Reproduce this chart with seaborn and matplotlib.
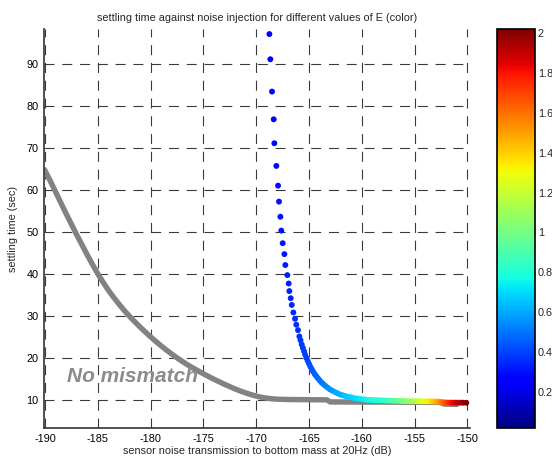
import numpy as np
import pandas as pd
import matplotlib
matplotlib.use("Agg")
import matplotlib.pyplot as plt
from matplotlib.colors import Normalize
from matplotlib.cm import ScalarMappable
import seaborn as sns

# ---- data -------------------------------------------------------------
# reference curve: no mismatch (grey)
ref_x = [-190.05, -189.5, -189.0, -188.5, -188.0, -187.5, -187.0, -186.5,
         -186.0, -185.5, -185.0, -184.5, -184.0, -183.5, -183.0, -182.5,
         -182.0, -181.5, -181.0, -180.5, -180.0, -179.5, -179.0, -178.5,
         -178.0, -177.5, -177.0, -176.5, -176.0, -175.5, -175.0, -174.5,
         -174.0, -173.5, -173.0, -172.5, -172.0, -171.5, -171.0, -170.5,
         -170.0, -169.5, -169.0, -168.5, -168.0, -167.0, -165.0, -163.3,
         -163.0, -157.0, -152.6, -152.2, -151.0]
ref_y = [64.8, 62.1, 59.5, 56.9, 54.3, 51.8, 49.3, 46.9,
         44.5, 42.2, 40.0, 38.0, 36.1, 34.4, 32.8, 31.3,
         29.9, 28.6, 27.35, 26.15, 25.0, 23.9, 22.85, 21.85,
         20.9, 20.0, 19.15, 18.35, 17.6, 16.9, 16.2, 15.55,
         14.9, 14.3, 13.7, 13.15, 12.6, 12.1, 11.65, 11.25,
         10.9, 10.6, 10.4, 10.25, 10.15, 10.08, 10.03, 10.0,
         9.5, 9.45, 9.4, 9.0, 8.9]

# settling time for each value of E
noise_db = [
    # sparse part (large settling times)
    -168.75, -168.66, -168.50, -168.34, -168.28, -168.09, -167.93, -167.84,
    -167.71, -167.62, -167.49, -167.33, -167.24, -167.05, -166.92, -166.86,
    -166.73, -166.63, -166.48, -166.32, -166.20, -166.04, -165.91,
    # knee
    -165.80, -165.69, -165.58, -165.47, -165.37, -165.25, -165.12, -165.00,
    -164.87, -164.74, -164.60, -164.45, -164.30, -164.14, -163.98, -163.80,
    -163.62, -163.43, -163.23, -163.02, -162.80, -162.57, -162.33, -162.08,
    -161.82, -161.55, -161.27, -160.98, -160.68, -160.38, -160.07, -159.75,
    -159.43,
    # plateau
    -159.15, -158.90, -158.65, -158.40, -158.15, -157.90, -157.65, -157.40,
    -157.15, -156.90, -156.65, -156.40, -156.15, -155.90, -155.65, -155.40,
    -155.15, -154.90, -154.65, -154.40, -154.15, -153.90, -153.65, -153.40,
    -153.15, -152.90, -152.65, -152.40, -152.15, -151.90, -151.65, -151.40,
    -151.15, -150.90, -150.65, -150.40, -150.10]
settle_s = [
    97.1, 91.1, 83.4, 76.8, 71.1, 65.7, 61.0, 57.2,
    53.6, 50.3, 47.3, 44.7, 42.1, 39.7, 37.7, 35.9,
    34.2, 32.6, 30.8, 29.3, 27.9, 26.6, 25.1,
    24.2, 23.2, 22.4, 21.6, 20.8, 20.0, 19.3, 18.6,
    17.9, 17.3, 16.7, 16.1, 15.6, 15.1, 14.6, 14.1,
    13.7, 13.3, 12.9, 12.5, 12.2, 11.9, 11.6, 11.3,
    11.1, 10.9, 10.7, 10.6, 10.4, 10.3, 10.2, 10.1,
    10.0,
    9.98, 9.95, 9.92, 9.90, 9.88, 9.86, 9.84, 9.82,
    9.80, 9.78, 9.76, 9.74, 9.72, 9.70, 9.70, 9.68,
    9.68, 9.66, 9.66, 9.65, 9.65, 9.64, 9.64, 9.63,
    9.62, 9.60, 9.55, 9.45, 9.38, 9.35, 9.35, 9.33,
    9.33, 9.32, 9.32, 9.32, 9.30]
E_val = [
    0.260, 0.265, 0.270, 0.275, 0.280, 0.285, 0.290, 0.295,
    0.300, 0.305, 0.310, 0.315, 0.320, 0.325, 0.330, 0.335,
    0.340, 0.345, 0.350, 0.355, 0.360, 0.365, 0.370,
    0.375, 0.380, 0.385, 0.390, 0.395, 0.400, 0.410, 0.420,
    0.430, 0.440, 0.450, 0.460, 0.470, 0.480, 0.490, 0.500,
    0.515, 0.530, 0.545, 0.560, 0.575, 0.590, 0.605, 0.620,
    0.635, 0.650, 0.665, 0.680, 0.695, 0.710, 0.725, 0.740,
    0.755,
    0.77, 0.78, 0.79, 0.80, 0.82, 0.84, 0.86, 0.88,
    0.90, 0.92, 0.95, 0.98, 1.00, 1.03, 1.06, 1.09,
    1.12, 1.16, 1.20, 1.24, 1.28, 1.31, 1.34, 1.38,
    1.42, 1.47, 1.53, 1.60, 1.66, 1.72, 1.77, 1.82,
    1.86, 1.90, 1.94, 1.98, 2.02]

x_ticks = [-190, -185, -180, -175, -170, -165, -160, -155, -150]
y_ticks = [10, 20, 30, 40, 50, 60, 70, 80, 90]
cbar_ticks = [0.2, 0.4, 0.6, 0.8, 1.0, 1.2, 1.4, 1.6, 1.8, 2.0]
E_range = (0.02, 2.02)

# ---- style ------------------------------------------------------------
sns.set_style("white")
plt.rcParams["font.family"] = ["Liberation Sans", "DejaVu Sans"]
FS = 7.8
plt.rcParams["font.size"] = FS

jet = matplotlib.colormaps["jet"]

fig = plt.figure(figsize=(5.52, 4.57), dpi=100)
ax = fig.add_axes([0.0797, 0.0635, 0.7717, 0.873])
cax = fig.add_axes([0.9004, 0.0635, 0.0688, 0.873])

ref_df = pd.DataFrame({"x": ref_x, "y": ref_y})
sns.lineplot(data=ref_df, x="x", y="y", sort=False, color="#828282",
             linewidth=3.9, solid_capstyle="round", solid_joinstyle="round",
             ax=ax, zorder=2)

df = pd.DataFrame({"noise": noise_db, "settle": settle_s, "E": E_val})
sns.scatterplot(data=df, x="noise", y="settle", hue="E", palette=jet,
                hue_norm=E_range, s=18, linewidth=0, legend=False,
                ax=ax, zorder=3)

ax.text(-187.9, 15.6, "No mismatch", fontsize=15, fontweight="bold",
        fontstyle="italic", color="#8c8c8c", va="center", ha="left",
        zorder=2.5)

ax.set_xlim(-190.1, -149.75)
ax.set_ylim(3.3, 98.3)
ax.set_xticks(x_ticks)
ax.set_yticks(y_ticks)
ax.set_xticklabels([str(t) for t in x_ticks])
ax.set_yticklabels([str(t) for t in y_ticks])
ax.grid(True, color="#3a3a3a", linewidth=0.8, linestyle=(0, (9, 7)))
ax.set_axisbelow(True)
for side in ("top", "right"):
    ax.spines[side].set_visible(False)
for side in ("left", "bottom"):
    ax.spines[side].set_color("#333333")
    ax.spines[side].set_linewidth(1.2)
ax.tick_params(direction="in", length=3, width=0.8, colors="black",
               labelsize=FS, pad=4)

ax.set_title("settling time against noise injection for different values of E (color)",
             fontsize=FS, pad=6)
ax.set_xlabel("sensor noise transmission to bottom mass at 20Hz (dB)",
              fontsize=FS, labelpad=2)
ax.set_ylabel("settling time (sec)", fontsize=FS, labelpad=6)

sm = ScalarMappable(norm=Normalize(*E_range), cmap=jet)
cb = fig.colorbar(sm, cax=cax, ticks=cbar_ticks)
cb.ax.set_yticklabels([f"{t:g}" for t in cbar_ticks])
cb.outline.set_linewidth(1.2)
cb.outline.set_edgecolor("black")
cax.tick_params(direction="in", left=True, right=True, length=3,
                width=0.8, labelsize=FS, pad=2)

fig.savefig("out.png", dpi=100, facecolor="white")
